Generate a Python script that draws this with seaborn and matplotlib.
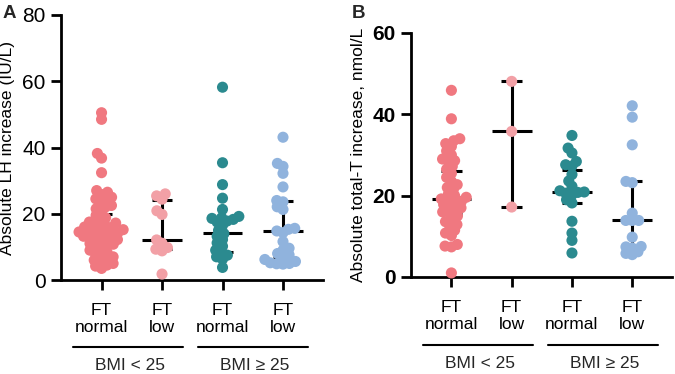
import pandas as pd
import matplotlib.pyplot as plt
import matplotlib.transforms as mtransforms
import seaborn as sns

GROUPS = ['FT\nnormal', 'FT\nlow', 'FT\nnormal ', 'FT\nlow ']
COLORS = ['#F07880', '#F2A0A6', '#2B8A8F', '#90B3DD']

# Panel A - absolute LH increase (IU/L)
lh_normal_lo = [50.5, 48.5, 38.2, 36.8, 32.4, 27.0, 26.5, 25.8, 25.0, 24.5, 24.0,
                23.2, 22.5, 22.0, 21.5, 20.5, 19.5, 18.8, 18.0, 17.5, 17.2, 16.8,
                16.5, 16.0, 15.8, 15.5, 15.2, 15.0, 14.8, 14.5, 14.2, 14.0, 13.8,
                13.5, 13.2, 13.0, 12.5, 12.2, 12.0, 11.5, 11.0, 10.8, 10.5, 10.0,
                9.5, 9.0, 8.5, 8.0, 7.5, 7.0, 6.5, 6.0, 5.5, 5.0, 4.5, 4.2, 3.5]
lh_low_lo = [26.0, 25.4, 24.4, 20.9, 19.8, 12.1, 11.1, 9.8, 9.3, 8.8, 1.8]
lh_normal_hi = [58.2, 35.4, 28.8, 24.7, 21.3, 19.2, 18.8, 18.6, 18.3, 17.8, 17.5,
                16.5, 15.0, 14.0, 13.2, 12.2, 11.2, 10.2, 9.0, 8.3, 7.5, 7.0, 6.3, 3.8]
lh_low_hi = [43.1, 35.2, 34.3, 32.2, 28.1, 24.0, 23.6, 22.1, 21.3, 15.6, 15.3,
             14.8, 14.3, 11.6, 9.6, 9.0, 8.0, 7.6, 7.0, 6.2, 5.6, 5.2, 5.0, 4.9, 4.8]
lh_median = [15.0, 12.2, 14.2, 14.8]
lh_q1 = [10.5, 9.3, 8.5, 7.0]
lh_q3 = [20.0, 24.2, 18.6, 23.8]

# Panel B - absolute total-T increase (nmol/L)
tt_normal_lo = [45.9, 38.9, 34.0, 33.5, 32.8, 32.1, 31.0, 30.0, 29.0, 28.6, 28.4,
                27.2, 26.5, 25.5, 24.5, 23.5, 22.7, 22.0, 21.5, 20.5, 20.0, 19.6,
                19.2, 19.0, 18.6, 18.2, 17.8, 17.4, 17.0, 16.5, 16.0, 15.9, 15.0,
                14.5, 13.6, 12.9, 12.5, 11.5, 10.8, 10.2, 8.0, 7.6, 7.4, 1.0]
tt_low_lo = [48.1, 35.8, 17.2]
tt_normal_hi = [34.8, 31.7, 30.5, 28.4, 27.6, 27.3, 25.2, 23.6, 22.3, 21.2, 20.9,
                20.8, 20.6, 20.2, 19.0, 18.2, 13.7, 10.8, 9.0, 5.9]
tt_low_hi = [42.1, 39.3, 32.5, 23.5, 23.2, 15.7, 13.9, 13.9, 13.9, 9.8, 7.5, 7.4,
             7.1, 6.2, 5.8, 5.5]
tt_median = [19.2, 35.8, 21.0, 13.9]
tt_q1 = [15.5, 17.2, 18.1, 7.0]
tt_q3 = [26.0, 48.1, 26.3, 23.5]

BMI_LABELS = ['BMI < 25', 'BMI \u2265 25']


def long_frame(series):
    rows = []
    for g, vals in zip(GROUPS, series):
        rows += [(g, v) for v in vals]
    return pd.DataFrame(rows, columns=['group', 'value'])


def draw_panel(fig, ax, df, med, q1, q3, ylim, yticks, ylabel, bold_ticks, line_y, text_y):
    x = list(range(len(GROUPS)))
    ax.vlines(x, q1, q3, color='black', lw=2.2, zorder=1)
    ax.hlines(med, [i - 0.33 for i in x], [i + 0.33 for i in x], color='black', lw=2.2, zorder=1)
    ax.hlines(q1, [i - 0.17 for i in x], [i + 0.17 for i in x], color='black', lw=2.2, zorder=1)
    ax.hlines(q3, [i - 0.17 for i in x], [i + 0.17 for i in x], color='black', lw=2.2, zorder=1)
    # swarm laid out with small dots so the final dots overlap like in GraphPad
    sns.swarmplot(data=df, x='group', y='value', hue='group', order=GROUPS,
                  palette=COLORS, size=4.4, linewidth=0, legend=False, ax=ax,
                  zorder=3, clip_on=False, warn_thresh=1)
    ax.set_xlim(-0.67, 3.66)
    ax.set_ylim(*ylim)
    ax.set_yticks(yticks)
    ax.set_xticks(x)
    ax.set_xticklabels(['FT\nnormal', 'FT\nlow', 'FT\nnormal', 'FT\nlow'], fontsize=12.5, linespacing=1.15)
    ax.set_xlabel('')
    ax.set_ylabel(ylabel, fontsize=12.5, labelpad=5, color='black')
    for lab in ax.get_yticklabels():
        lab.set_fontsize(15)
        if bold_ticks:
            lab.set_fontweight('bold')
    sns.despine(ax=ax)
    for s in ['left', 'bottom']:
        ax.spines[s].set_linewidth(2)
        ax.spines[s].set_color('black')
    ax.tick_params(axis='both', direction='out', length=7.5, width=2, color='black', labelcolor='black')
    ax.tick_params(axis='x', pad=9)
    trans = mtransforms.blended_transform_factory(ax.transData, fig.transFigure)
    for (x0, x1), lbl in zip([(-0.47, 1.35), (1.6, 3.42)], BMI_LABELS):
        ax.plot([x0, x1], [line_y, line_y], color='black', lw=1.5, transform=trans, clip_on=False)
        ax.text((x0 + x1) / 2 + 0.03, text_y, lbl, transform=trans, ha='center', va='center', fontsize=12.5)


def main():
    sns.set_theme(style='ticks')
    plt.rcParams['font.family'] = ['Liberation Sans', 'DejaVu Sans']
    fig = plt.figure(figsize=(6.75, 3.74), dpi=100)
    ax1 = fig.add_axes([0.0904, 0.2513, 0.388, 0.7086])
    ax2 = fig.add_axes([0.6089, 0.2594, 0.3867, 0.6524])

    df_a = long_frame([lh_normal_lo, lh_low_lo, lh_normal_hi, lh_low_hi])
    df_b = long_frame([tt_normal_lo, tt_low_lo, tt_normal_hi, tt_low_hi])

    draw_panel(fig, ax1, df_a, lh_median, lh_q1, lh_q3, (0, 80), [0, 20, 40, 60, 80],
               'Absolute LH increase (IU/L)', False, 0.072, 0.024)
    draw_panel(fig, ax2, df_b, tt_median, tt_q1, tt_q3, (0, 60), [0, 20, 40, 60],
               'Absolute total-T increase, nmol/L', True, 0.0775, 0.029)

    fig.text(0.004, 0.965, 'A', fontsize=13.5, fontweight='bold', va='center')
    fig.text(0.521, 0.965, 'B', fontsize=13.5, fontweight='bold', va='center')

    # fix the swarm positions, then enlarge the dots
    fig.canvas.draw()
    for ax in (ax1, ax2):
        for coll in ax.collections:
            if 'draw' in coll.__dict__:
                del coll.draw
                coll.set_sizes([8.0 ** 2])

    fig.savefig('out.png', dpi=100)
    plt.close(fig)


if __name__ == '__main__':
    main()
